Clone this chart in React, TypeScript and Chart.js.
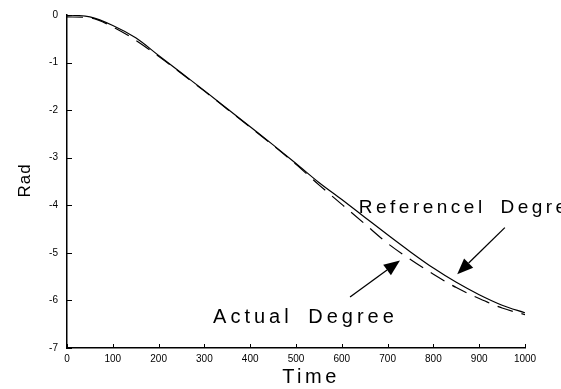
import React, { useEffect, useRef } from 'react';
import { Chart, registerables } from 'chart.js';

Chart.register(...registerables);

const timeValues = [0, 50, 100, 150, 200, 250, 300, 350, 400, 450, 500, 550, 600, 650, 700, 750, 800, 850, 900, 950, 1000];
const referenceDegree = [0, -0.04, -0.22, -0.48, -0.85, -1.22, -1.59, -1.97, -2.35, -2.73, -3.12, -3.52, -3.88, -4.25, -4.62, -4.98, -5.32, -5.62, -5.88, -6.1, -6.26];
const actualDegree = [-0.04, -0.06, -0.25, -0.53, -0.87, -1.23, -1.6, -1.98, -2.36, -2.74, -3.14, -3.57, -3.98, -4.39, -4.8, -5.14, -5.45, -5.73, -5.96, -6.16, -6.3];

const xTickValues = [0, 100, 200, 300, 400, 500, 600, 700, 800, 900, 1000];
const yTickValues = [0, -1, -2, -3, -4, -5, -6, -7];

const xTitle = 'Time';
const yTitle = 'Rad';
const referenceLabel = 'Referencel Degree';
const actualLabel = 'Actual Degree';

// label anchors / arrows in data units
const referenceLabelAt = { x: 637, y: -4.16 };
const actualLabelAt = { x: 319, y: -6.48 };
const referenceArrow = { from: { x: 956, y: -4.47 }, to: { x: 852, y: -5.45 } };
const actualArrow = { from: { x: 618, y: -5.93 }, to: { x: 727, y: -5.16 } };

const FONT = '"Liberation Sans", Arial, Helvetica, sans-serif';

function drawArrow(ctx: CanvasRenderingContext2D, x1: number, y1: number, x2: number, y2: number) {
  const ang = Math.atan2(y2 - y1, x2 - x1);
  const headLen = 16;
  const headW = 6.5;
  const bx = x2 - headLen * Math.cos(ang);
  const by = y2 - headLen * Math.sin(ang);
  ctx.beginPath();
  ctx.moveTo(x1, y1);
  ctx.lineTo(bx, by);
  ctx.lineWidth = 1.3;
  ctx.stroke();
  ctx.beginPath();
  ctx.moveTo(x2, y2);
  ctx.lineTo(bx + headW * Math.sin(ang), by - headW * Math.cos(ang));
  ctx.lineTo(bx - headW * Math.sin(ang), by + headW * Math.cos(ang));
  ctx.closePath();
  ctx.fill();
}

const overlayPlugin = {
  id: 'overlay',
  afterDraw(chart: any) {
    const { ctx, chartArea } = chart;
    const xs = chart.scales.x;
    const ys = chart.scales.y;
    ctx.save();
    ctx.strokeStyle = '#000';
    ctx.fillStyle = '#000';
    ctx.lineWidth = 1;
    // inward tick marks
    for (const v of xTickValues) {
      const px = Math.round(xs.getPixelForValue(v)) + 0.5;
      ctx.beginPath();
      ctx.moveTo(px, chartArea.bottom);
      ctx.lineTo(px, chartArea.bottom - 4);
      ctx.stroke();
    }
    for (const v of yTickValues) {
      const py = Math.round(ys.getPixelForValue(v)) + 0.5;
      ctx.beginPath();
      ctx.moveTo(chartArea.left, py);
      ctx.lineTo(chartArea.left + 5, py);
      ctx.stroke();
    }
    // annotation texts
    ctx.textBaseline = 'alphabetic';
    ctx.textAlign = 'left';
    ctx.font = `19px ${FONT}`;
    (ctx as any).letterSpacing = '3.5px';
    (ctx as any).wordSpacing = '6px';
    ctx.fillText(referenceLabel, xs.getPixelForValue(referenceLabelAt.x), ys.getPixelForValue(referenceLabelAt.y));
    ctx.font = `20px ${FONT}`;
    (ctx as any).letterSpacing = '4px';
    (ctx as any).wordSpacing = '6px';
    ctx.fillText(actualLabel, xs.getPixelForValue(actualLabelAt.x), ys.getPixelForValue(actualLabelAt.y));
    (ctx as any).wordSpacing = '0px';
    // axis titles
    ctx.font = `20px ${FONT}`;
    (ctx as any).letterSpacing = '3.5px';
    ctx.textAlign = 'center';
    ctx.fillText(xTitle, (chartArea.left + chartArea.right) / 2 + 15, 383);
    ctx.save();
    ctx.translate(30, (chartArea.top + chartArea.bottom) / 2 - 1);
    ctx.rotate(-Math.PI / 2);
    ctx.font = `17px ${FONT}`;
    (ctx as any).letterSpacing = '1px';
    ctx.fillText(yTitle, 0, 0);
    ctx.restore();
    (ctx as any).letterSpacing = '0px';
    // arrows
    for (const a of [referenceArrow, actualArrow]) {
      drawArrow(
        ctx,
        xs.getPixelForValue(a.from.x), ys.getPixelForValue(a.from.y),
        xs.getPixelForValue(a.to.x), ys.getPixelForValue(a.to.y)
      );
    }
    ctx.restore();
  },
};

export default function App() {
  const canvasRef = useRef<HTMLCanvasElement | null>(null);

  useEffect(() => {
    document.body.style.margin = '0';
    const canvas = canvasRef.current;
    if (!canvas) return;
    const chart = new Chart(canvas, {
      type: 'line',
      data: {
        datasets: [
          {
            label: referenceLabel,
            data: timeValues.map((t, i) => ({ x: t, y: referenceDegree[i] })),
            borderColor: '#000',
            borderWidth: 1.2,
            pointRadius: 0,
            cubicInterpolationMode: 'monotone',
            fill: false,
          },
          {
            label: actualLabel,
            data: timeValues.map((t, i) => ({ x: t, y: actualDegree[i] })),
            borderColor: '#000',
            borderWidth: 1.2,
            borderDash: [16, 9],
            pointRadius: 0,
            cubicInterpolationMode: 'monotone',
            fill: false,
          },
        ],
      },
      options: {
        responsive: false,
        animation: false,
        layout: { padding: { top: 13, right: 36, left: 0, bottom: 0 } },
        plugins: { legend: { display: false }, tooltip: { enabled: false } },
        scales: {
          x: {
            type: 'linear',
            min: 0,
            max: 1000,
            afterFit: (s: any) => { s.height = 41; },
            afterBuildTicks: (s: any) => { s.ticks = xTickValues.map((v) => ({ value: v })); },
            grid: { display: false, drawTicks: false },
            border: { display: true, color: '#000', width: 1.5 },
            ticks: {
              padding: 5,
              color: '#000',
              font: { size: 10, family: FONT },
              maxRotation: 0,
              autoSkip: false,
              callback: (v: any) => String(v),
            },
          },
          y: {
            type: 'linear',
            min: -7,
            max: 0,
            afterFit: (s: any) => { s.width = 67; },
            afterBuildTicks: (s: any) => { s.ticks = yTickValues.map((v) => ({ value: v })); },
            grid: { display: false, drawTicks: false },
            border: { display: true, color: '#000', width: 1.5 },
            ticks: {
              padding: 9,
              color: '#000',
              font: { size: 10, family: FONT },
              autoSkip: false,
              callback: (v: any) => String(v),
            },
          },
        },
      },
      plugins: [overlayPlugin],
    });
    return () => chart.destroy();
  }, []);

  return <canvas ref={canvasRef} width={561} height={389} style={{ display: 'block' }} />;
}
